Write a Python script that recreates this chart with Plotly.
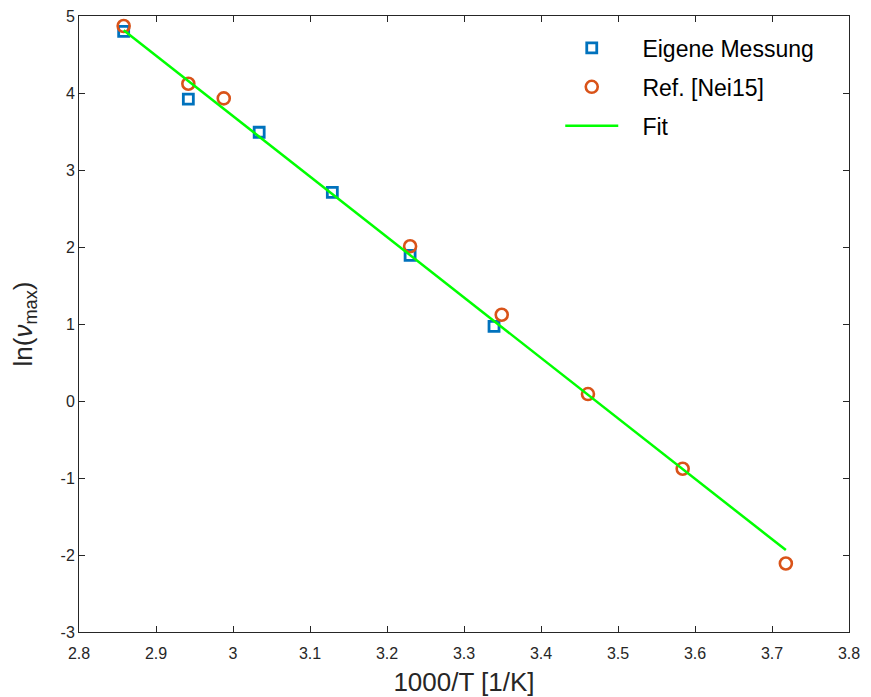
import numpy as np
import plotly.graph_objects as go

# Eigene Messung
x_own = [2.858, 2.942, 3.034, 3.129, 3.230, 3.339]
y_own = [4.80, 3.92, 3.49, 2.71, 1.89, 0.97]

# Ref. [Nei15]
x_ref = [2.858, 2.942, 2.988, 3.230, 3.349, 3.461, 3.584, 3.718]
y_ref = [4.87, 4.12, 3.93, 2.01, 1.12, 0.09, -0.88, -2.11]

# Arrhenius fit: ln(nu_max) = intercept + slope * (1000/T)
fit_slope = -7.85
fit_intercept = 27.25

x_all = x_own + x_ref
x_fit = np.linspace(min(x_all), max(x_all), 50)
y_fit = fit_intercept + fit_slope * x_fit

x_ticks = [2.8, 2.9, 3.0, 3.1, 3.2, 3.3, 3.4, 3.5, 3.6, 3.7, 3.8]
x_ticklabels = ["2.8", "2.9", "3", "3.1", "3.2", "3.3", "3.4", "3.5", "3.6", "3.7", "3.8"]
y_ticks = [-3, -2, -1, 0, 1, 2, 3, 4, 5]
y_ticklabels = ["-3", "-2", "-1", "0", "1", "2", "3", "4", "5"]

BLUE = "#0072BD"
ORANGE = "#D95319"
GREEN = "#00FF00"
AXIS = "#262626"
FONT = "Arial, Liberation Sans, Helvetica, sans-serif"
PAD = "\u00a0\u00a0\u00a0"

fig = go.Figure()
fig.add_trace(go.Scatter(
    x=x_own, y=y_own, mode="markers", name=PAD + "Eigene Messung", legendgroup="a",
    marker=dict(symbol="square-open", size=10, color=BLUE, line=dict(width=2.8, color=BLUE)),
))
fig.add_trace(go.Scatter(
    x=x_ref, y=y_ref, mode="markers", name=PAD + "Ref. [Nei15]", legendgroup="b",
    marker=dict(symbol="circle-open", size=12, color=ORANGE, line=dict(width=2.6, color=ORANGE)),
))
fig.add_trace(go.Scatter(
    x=x_fit, y=y_fit, mode="lines", name=PAD + "Fit", legendgroup="c",
    line=dict(color=GREEN, width=2.5),
))

axis_common = dict(
    showgrid=False, zeroline=False, showline=True, linecolor=AXIS, linewidth=1,
    mirror="ticks", ticks="inside", ticklen=6, tickwidth=1, tickcolor=AXIS,
    tickfont=dict(family=FONT, size=16, color=AXIS), automargin=False,
)

fig.update_layout(
    width=871, height=697,
    margin=dict(l=79, r=22, t=16, b=65),
    paper_bgcolor="white", plot_bgcolor="white",
    font=dict(family=FONT, color=AXIS),
    xaxis=dict(
        range=[2.8, 3.8], tickvals=x_ticks, ticktext=x_ticklabels, ticklabelstandoff=7,
        title=dict(text="1000/T [1/K]", font=dict(family=FONT, size=26, color=AXIS), standoff=12),
        **axis_common,
    ),
    yaxis=dict(
        range=[-3, 5], tickvals=y_ticks, ticktext=y_ticklabels,
        title=dict(text="ln(<i>ν</i><sub>max</sub>)", font=dict(family=FONT, size=26, color=AXIS), standoff=20),
        **axis_common,
    ),
    legend=dict(
        x=0.625, y=0.983, xanchor="left", yanchor="top",
        bgcolor="rgba(255,255,255,0)", borderwidth=0,
        font=dict(family=FONT, size=23, color="black"),
        itemwidth=53, tracegroupgap=6, traceorder="grouped",
    ),
    showlegend=True,
)

fig.write_html("out.html")
